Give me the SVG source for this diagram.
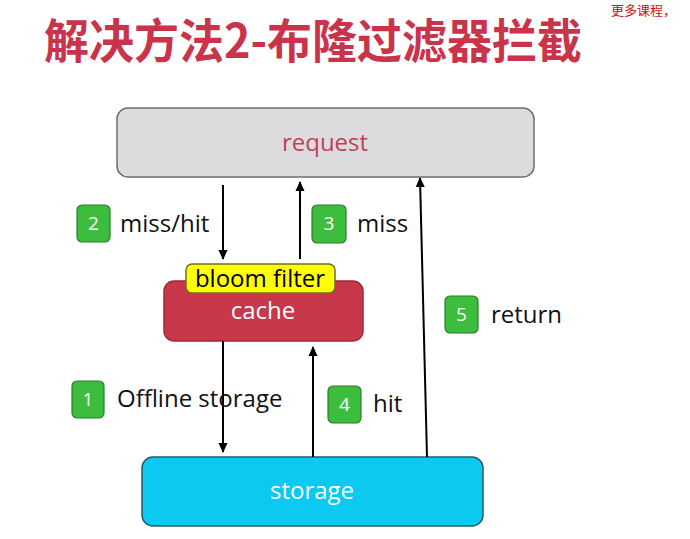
<svg xmlns="http://www.w3.org/2000/svg" width="690" height="539" viewBox="0 0 690 539">
<defs>
<marker id="ah" markerWidth="10" markerHeight="10" refX="9" refY="5" orient="auto" markerUnits="userSpaceOnUse">
<path d="M0,0.5 L10,5 L0,9.5 Z" fill="#000"/>
</marker>
<style>
.lbl{font-family:"Open Sans","Noto Sans",sans-serif;font-size:24px;fill:#111}
.badge rect{fill:#3dbd3d;stroke:#2b7d2b;stroke-width:1.2}
.badge text{font-family:"Open Sans","Noto Sans",sans-serif;font-size:19px;fill:#fff;text-anchor:middle}
.conn line{stroke:#000;stroke-width:2;marker-end:url(#ah)}
.box text{font-family:"Open Sans","Noto Sans",sans-serif;font-size:24px;text-anchor:middle}
</style>
</defs>
<rect width="690" height="539" fill="#fff"/>
<text x="44" y="58" font-family="'Noto Sans CJK SC',sans-serif" font-weight="bold" font-size="47" fill="#c9344a" textLength="538" lengthAdjust="spacingAndGlyphs">解决方法2-布隆过滤器拦截</text>
<text x="611" y="15" font-family="'Noto Sans CJK SC',sans-serif" font-size="13" fill="#d01010">更多课程，</text>

<g id="request" class="box">
<rect x="117" y="108" width="417" height="69" rx="11" fill="#dcdcdf" stroke="#6e6e6e" stroke-width="1.5"/>
<text x="325" y="151" fill="#c0405a">request</text>
</g>
<g id="cache" class="box">
<rect x="164" y="281" width="199" height="60" rx="10" fill="#c8374a" stroke="#9c2a3a" stroke-width="1.5"/>
<text x="263" y="319" fill="#fff">cache</text>
</g>
<g id="bloom" class="box">
<rect x="186" y="264" width="149" height="29" rx="6" fill="#ffff00" stroke="#707020" stroke-width="1.5"/>
<text x="260" y="287" fill="#000">bloom filter</text>
</g>
<g id="storage" class="box">
<rect x="142" y="457" width="341" height="69" rx="11" fill="#0cc9f2" stroke="#2a5a6a" stroke-width="1.5"/>
<text x="312" y="499" fill="#fff">storage</text>
</g>

<g id="connectors" class="conn">
<line x1="223" y1="185" x2="223" y2="259"/>
<line x1="300" y1="259" x2="300" y2="182"/>
<line x1="427" y1="457" x2="420" y2="178"/>
<line x1="223" y1="341" x2="223" y2="452"/>
<line x1="313" y1="457" x2="313" y2="347"/>
</g>

<g id="step2" class="badge"><rect x="77" y="205" width="33" height="37" rx="5"/><text x="93.5" y="230">2</text></g>
<text class="lbl" x="120" y="232">miss/hit</text>
<g id="step3" class="badge"><rect x="312" y="205" width="34" height="38" rx="5"/><text x="329" y="230">3</text></g>
<text class="lbl" x="357" y="232">miss</text>
<g id="step1" class="badge"><rect x="72" y="381" width="32" height="37" rx="5"/><text x="88" y="406">1</text></g>
<text class="lbl" x="117" y="407">Offline storage</text>
<g id="step4" class="badge"><rect x="328" y="386" width="33" height="37" rx="5"/><text x="344.5" y="411">4</text></g>
<text class="lbl" x="373" y="412">hit</text>
<g id="step5" class="badge"><rect x="445" y="296" width="33" height="37" rx="5"/><text x="461.5" y="321">5</text></g>
<text class="lbl" x="491" y="323">return</text>
</svg>
